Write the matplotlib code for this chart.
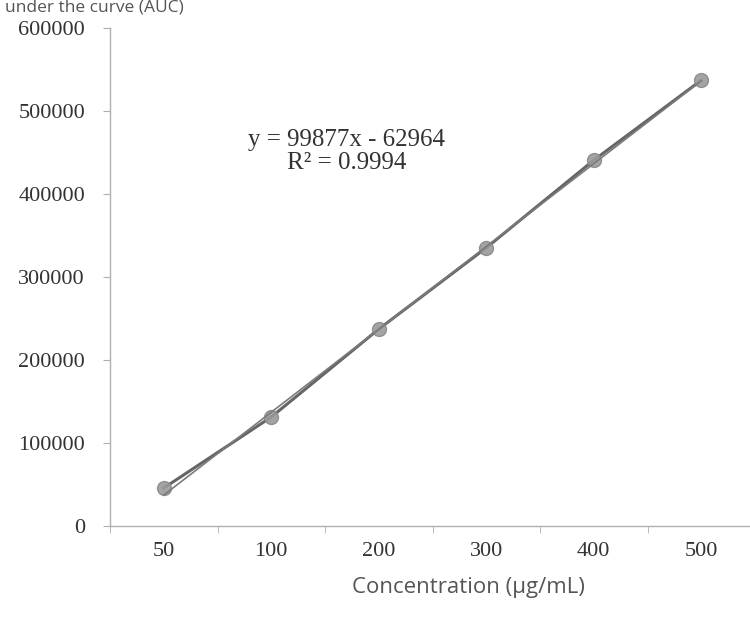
import matplotlib
matplotlib.use("Agg")
import matplotlib.pyplot as plt
import numpy as np

categories = ["50", "100", "200", "300", "400", "500"]
auc = [45400, 131000, 237000, 335000, 440600, 537000]
slope = 99877
intercept = -62964
r2 = 0.9994
yticks = [0, 100000, 200000, 300000, 400000, 500000, 600000]

W, H = 750, 617
fig = plt.figure(figsize=(W / 100, H / 100), dpi=100)
ax = fig.add_axes([110 / W, (H - 525.7) / H, 645 / W, (525.7 - 28) / H])

x = np.arange(1, len(categories) + 1)
fit = slope * x + intercept
ax.plot(x, auc, color="#555555", lw=2.2, marker="o", ms=10,
        mfc="#9a9a9a", mec="#8a8a8a", alpha=0.9, zorder=3)
ax.plot(x, fit, color="#7a7a7a", lw=1.2, zorder=4)

ax.set_xlim(0.5, 6.5)
ax.set_ylim(0, 600000)
ax.set_xticks(x)
ax.set_xticklabels(categories)
ax.set_xticks(np.arange(0.5, 7.0, 1.0), minor=True)
ax.set_yticks(yticks)
ax.set_yticklabels([str(v) for v in yticks])

for s in ["top", "right"]:
    ax.spines[s].set_visible(False)
for s in ["left", "bottom"]:
    ax.spines[s].set_color("#b0b0b0")
    ax.spines[s].set_linewidth(1.0)

ax.tick_params(axis="x", which="major", length=0, pad=12,
               labelsize=16, labelcolor="#333333")
ax.tick_params(axis="x", which="minor", length=5, color="#b0b0b0", direction="out")
ax.tick_params(axis="y", which="major", length=5, color="#b0b0b0", pad=13,
               labelsize=16, labelcolor="#333333")
for lab in ax.get_xticklabels() + ax.get_yticklabels():
    lab.set_fontfamily("Liberation Serif")

ax.text(2.70, 451000, f"y = {slope}x - {abs(intercept)}\nR\u00b2 = {r2}",
        ha="center", va="center", fontsize=18, color="#333333",
        family="Liberation Serif", linespacing=1.05)

fig.text(468 / W, 1 - 588 / H, "Concentration (\u03bcg/mL)", ha="center", va="center",
         fontsize=16, color="#555555", family="Open Sans")
fig.text(184 / W, 1 - 11 / H, "Area under the curve (AUC)", ha="right", va="baseline",
         fontsize=12.5, color="#555555", family="Open Sans")

fig.savefig("out.png", dpi=100)
